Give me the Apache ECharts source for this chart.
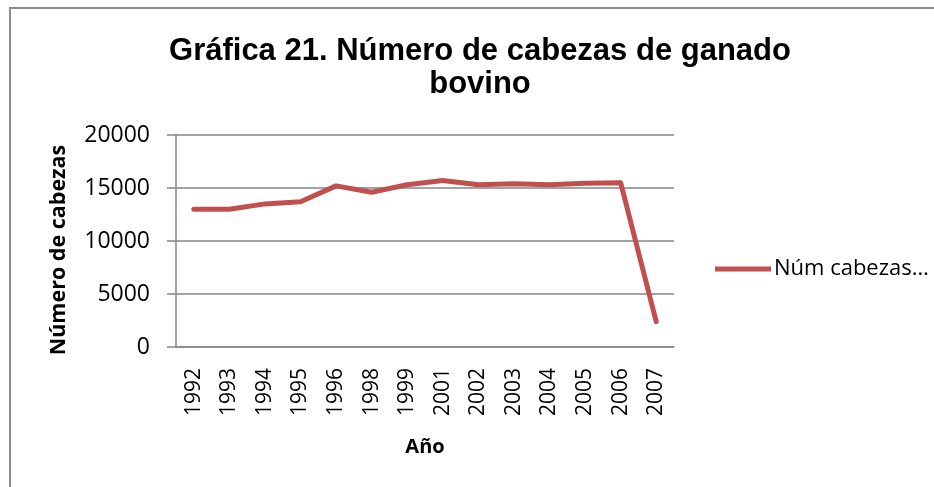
<!DOCTYPE html>
<html>
<head>
<meta charset="utf-8">
<script src="https://cdn.jsdelivr.net/npm/echarts@6/dist/echarts.min.js"></script>
<style>
html,body{margin:0;padding:0;background:#fff;}
#c{width:934px;height:487px;}
</style>
</head>
<body>
<div id="c"></div>
<script>
const categories = ['1992','1993','1994','1995','1996','1998','1999','2001','2002','2003','2004','2005','2006','2007'];
const cabezas = [13000,13000,13500,13700,15200,14600,15300,15700,15300,15400,15300,15450,15500,2400];
const seriesName = 'Núm cabezas…';
const yTicks = {min:0, max:20000, interval:5000};

const chart = echarts.init(document.getElementById('c'), null, {renderer:'canvas'});
const gridColor = '#868686';
chart.setOption({
  animation:false,
  backgroundColor:'#fff',
  graphic:[{
    type:'rect', silent:true,
    shape:{x:10, y:8, width:940, height:500},
    style:{fill:'none', stroke:'#8c8c8c', lineWidth:2}
  }],
  title:{
    text:'Gráfica 21. Número de cabezas de ganado\nbovino',
    left:475, top:30, textAlign:'center',
    textStyle:{fontFamily:'Liberation Sans', fontWeight:'bold', fontSize:31, lineHeight:33, color:'#000'}
  },
  legend:{
    left:715, top:258, padding:0,
    itemWidth:56, itemHeight:14, itemGap:5,
    icon:'path://M0,0 L56,0 L56,5 L0,5 Z',
    data:[seriesName],
    textStyle:{fontFamily:'Open Sans', fontSize:22, color:'#000', padding:[0,0,0,-2]}
  },
  grid:{left:176, right:260, top:135, bottom:140},
  xAxis:{
    type:'category', data:categories, boundaryGap:true,
    axisLine:{lineStyle:{color:gridColor, width:1.5}},
    axisTick:{show:false},
    axisLabel:{rotate:90, margin:21, fontFamily:'Open Sans', fontSize:21, color:'#000', interval:0},
    name:'Año', nameLocation:'middle', nameGap:90,
    nameTextStyle:{fontFamily:'Open Sans', fontWeight:'bold', fontSize:20, color:'#000'}
  },
  yAxis:{
    type:'value', min:yTicks.min, max:yTicks.max, interval:yTicks.interval,
    axisLine:{show:true, lineStyle:{color:gridColor, width:1.5}},
    axisTick:{show:true, inside:false, length:9, lineStyle:{color:gridColor, width:1.5}},
    splitLine:{lineStyle:{color:gridColor, width:1.5}},
    axisLabel:{margin:26, fontFamily:'Open Sans', fontSize:23, color:'#000', formatter:function(v){return String(v);}},
    name:'Número de cabezas', nameLocation:'middle', nameGap:106, nameRotate:90,
    nameTextStyle:{fontFamily:'Open Sans', fontWeight:'bold', fontSize:21.5, color:'#000', padding:[0,18,0,0]}
  },
  series:[{
    name:seriesName, type:'line', data:cabezas,
    symbol:'none', smooth:false,
    lineStyle:{color:'#C0504D', width:5, cap:'round', join:'round'},
    itemStyle:{color:'#C0504D'}
  }]
});
</script>
</body>
</html>
